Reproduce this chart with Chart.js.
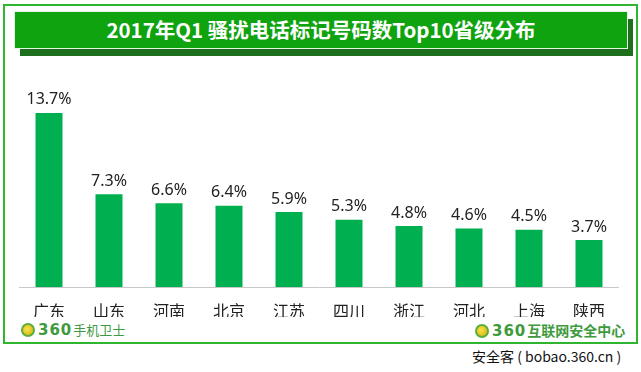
<!DOCTYPE html>
<html>
<head>
<meta charset="utf-8">
<script src="https://cdn.jsdelivr.net/npm/chart.js@4.4.1/dist/chart.umd.min.js"></script>
<style>
  html, body { margin: 0; padding: 0; background: #fff; }
  body { width: 641px; height: 372px; position: relative; overflow: hidden; font-family: "Noto Sans CJK SC", "Noto Sans", sans-serif; }
  .frame { position: absolute; left: 3px; top: 4px; width: 631px; height: 336px; border: 2px solid #2fb52f; }
  .shadow { position: absolute; left: 20px; top: 19px; width: 613px; height: 37px; background: #1d6e1d; }
  .banner { position: absolute; left: 14px; top: 11px; width: 614px; height: 38px; background: #0fa30f; border: 1px solid #e6f5e6; box-sizing: border-box; color: #fff; font-weight: bold; font-size: 20.5px; text-align: center; line-height: 35px; }
  #wrap { position: absolute; left: 19px; top: 71px; width: 600px; height: 246px; }
  .logo { position: absolute; top: 321px; color: #3d9a3d; font-size: 13px; line-height: 18px; white-space: nowrap; }
  .logo b { font-family: "DejaVu Sans", sans-serif; font-size: 15px; letter-spacing: 1px; margin-right: 1px; }
  .logo i { display: inline-block; width: 14px; height: 14px; border-radius: 50%; background: radial-gradient(circle at 40% 40%, #f6e24a, #d8b00a); border: 2px solid #5cae3c; box-sizing: border-box; vertical-align: -2px; margin-right: 3px; }
  .foot { position: absolute; left: 472px; top: 346px; font-size: 14px; color: #111; white-space: nowrap; }
</style>
</head>
<body>
<div class="frame"></div>
<div class="shadow"></div>
<div class="banner">2017年Q1 骚扰电话标记号码数Top10省级分布</div>
<div id="wrap"><canvas id="chart"></canvas></div>
<div class="logo" style="left:21px;"><i></i><b>360</b>手机卫士</div>
<div class="logo" style="left:475px; font-weight: bold; font-size: 14px;"><i></i><b>360</b>互联网安全中心</div>
<div class="foot">安全客 ( bobao.360.cn )</div>
<script>
const provinces = ["广东", "山东", "河南", "北京", "江苏", "四川", "浙江", "河北", "上海", "陕西"];
const shares = [13.7, 7.3, 6.6, 6.4, 5.9, 5.3, 4.8, 4.6, 4.5, 3.7];

// value labels above each bar
const barLabels = {
  id: "barLabels",
  afterDatasetsDraw(chart) {
    const ctx = chart.ctx;
    const meta = chart.getDatasetMeta(0);
    ctx.save();
    ctx.font = '16px "Noto Sans", "Open Sans", sans-serif';
    ctx.fillStyle = "#222";
    ctx.textAlign = "center";
    ctx.textBaseline = "bottom";
    meta.data.forEach((bar, i) => {
      ctx.fillText(shares[i].toFixed(1) + "%", bar.x, bar.y - 5);
    });
    ctx.restore();
  },
};

new Chart(document.getElementById("chart"), {
  type: "bar",
  data: {
    labels: provinces,
    datasets: [{
      data: shares,
      backgroundColor: "#00b050",
      categoryPercentage: 1,
      barPercentage: 0.45,
    }],
  },
  options: {
    responsive: true,
    maintainAspectRatio: false,
    animation: false,
    layout: { padding: 0 },
    plugins: { legend: { display: false }, tooltip: { enabled: false } },
    scales: {
      x: {
        grid: { display: false },
        border: { display: true, color: "#c8c8c8", width: 1 },
        ticks: { color: "#222", font: { family: "Noto Sans CJK SC", size: 16 }, padding: 6 },
        afterFit: (s) => { s.height = 30; },
      },
      y: { display: false, min: 0, max: 17 },
    },
  },
  plugins: [barLabels],
});
</script>
</body>
</html>
